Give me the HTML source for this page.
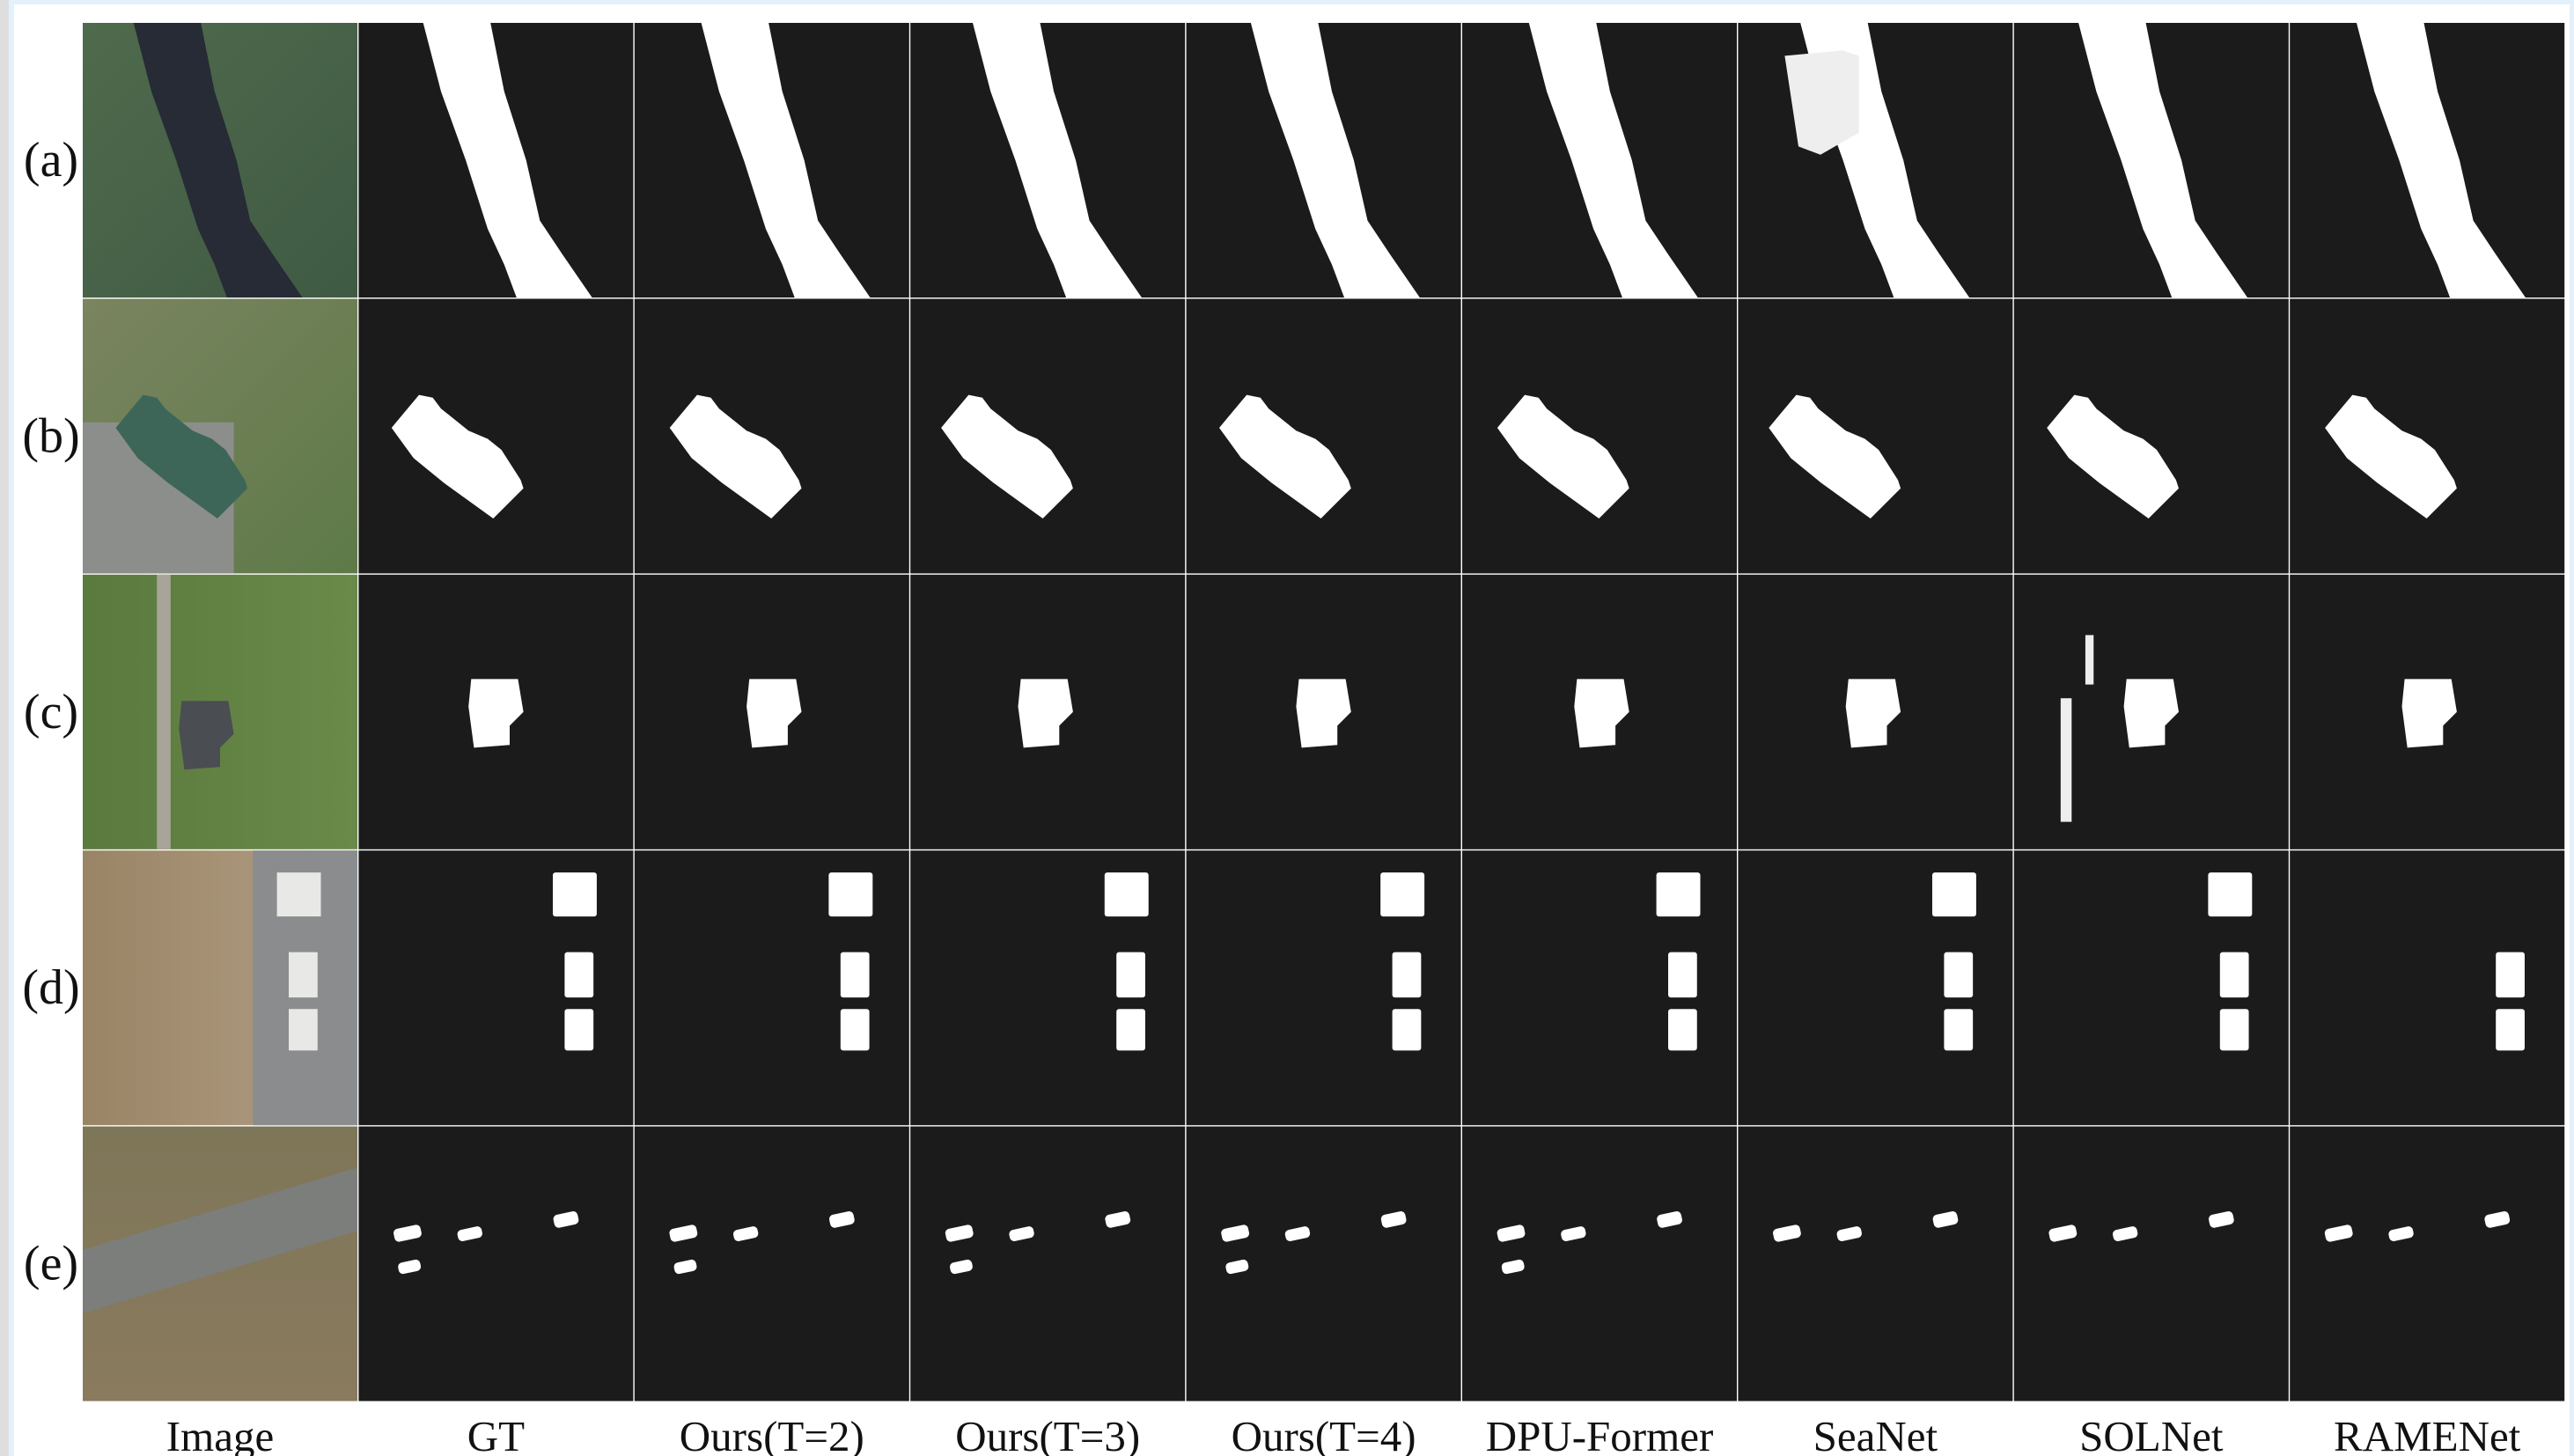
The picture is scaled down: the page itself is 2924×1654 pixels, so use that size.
<!DOCTYPE html>
<html><head><meta charset="utf-8"><style>
html,body{margin:0;padding:0;width:2924px;height:1654px;overflow:hidden;background:#fff}
svg{display:block}
text{font-family:"Liberation Serif",serif;fill:#111}
</style></head><body>
<svg id="fig" width="2924" height="1654" viewBox="0 0 2924 1654" xmlns="http://www.w3.org/2000/svg">
<rect x="0" y="0" width="2924" height="1654" fill="#ffffff"/>
<rect x="0" y="0" width="2924" height="5" fill="#e2f1fb"/>
<rect x="0" y="0" width="10" height="1654" fill="#dedede"/>
<rect x="10" y="0" width="6" height="1654" fill="#e2f1fb"/>
<rect x="2919" y="0" width="5" height="1654" fill="#e2f1fb"/>
<defs>
<linearGradient id="gA" x1="0" y1="0" x2="1" y2="1"><stop offset="0" stop-color="#4f6a4c"/><stop offset="1" stop-color="#3f5a44"/></linearGradient>
<linearGradient id="gB" x1="0" y1="0" x2="1" y2="1"><stop offset="0" stop-color="#7a8460"/><stop offset="1" stop-color="#5e7a48"/></linearGradient>
<linearGradient id="gC" x1="0" y1="0" x2="1" y2="0"><stop offset="0" stop-color="#5a7a3e"/><stop offset="1" stop-color="#6a8a4a"/></linearGradient>
<linearGradient id="gD" x1="0" y1="0" x2="1" y2="0"><stop offset="0" stop-color="#9a8466"/><stop offset="0.6" stop-color="#a89478"/><stop offset="1" stop-color="#8a8a88"/></linearGradient>
<linearGradient id="gE" x1="0" y1="0" x2="0" y2="1"><stop offset="0" stop-color="#7e7658"/><stop offset="1" stop-color="#8a7a5e"/></linearGradient>
</defs>
<g id="cells"></g>
<g id="labels"></g>
</svg>
<script>
const columns = ["Image","GT","Ours(T=2)","Ours(T=3)","Ours(T=4)","DPU-Former","SeaNet","SOLNet","RAMENet"];
const rowLabels = ["(a)","(b)","(c)","(d)","(e)"];
const riverShape = [[0.235,0],[0.48,0],[0.53,0.25],[0.61,0.5],[0.66,0.72],[0.74,0.84],[0.85,1],[0.575,1],[0.53,0.88],[0.47,0.75],[0.39,0.5],[0.3,0.25]];
const buildingShape = [[0.22,0.35],[0.27,0.36],[0.3,0.4],[0.4,0.48],[0.47,0.51],[0.52,0.55],[0.59,0.66],[0.6,0.69],[0.49,0.8],[0.31,0.67],[0.2,0.58],[0.12,0.47],[0.17,0.41]];
const houseShape = [[0.41,0.38],[0.58,0.38],[0.6,0.5],[0.55,0.55],[0.55,0.62],[0.42,0.63],[0.4,0.48]];
const depotRects = [[0.707,0.08,0.16,0.16],[0.75,0.37,0.105,0.165],[0.75,0.577,0.105,0.151]];
const carSpots = [[0.128,0.365,0.10,0.048],[0.36,0.37,0.09,0.042],[0.71,0.315,0.09,0.048],[0.144,0.49,0.082,0.042]];
const x0=94, y0=26, pitch=313.4, cs=312;
const NS="http://www.w3.org/2000/svg";
const cells=document.getElementById('cells');
const labels=document.getElementById('labels');
function mk(tag,attrs,parent){const e=document.createElementNS(NS,tag);for(const k in attrs)e.setAttribute(k,attrs[k]);parent.appendChild(e);return e;}
function poly(pts,cx,cy,parent,dx){return mk('polygon',{points:pts.map(p=>((cx+(p[0]+(dx||0))*cs).toFixed(1)+','+(cy+p[1]*cs).toFixed(1))).join(' '),fill:'#fff'},parent);}
const gradIds=["gA","gB","gC","gD","gE"];
for(let r=0;r<5;r++){
  const cy=y0+r*pitch;
  const lab=mk('text',{x:58,y:cy+cs/2+18,'font-size':56,'text-anchor':'middle'},labels);
  lab.textContent=rowLabels[r];
  
  
  for(let c=0;c<columns.length;c++){
    const cx=x0+c*pitch;
    const g=mk('g',{},cells);
    
    
    if(c===0){
      mk('rect',{x:cx,y:cy,width:cs,height:cs,fill:'url(#'+gradIds[r]+')'},g);
      if(r===0){poly(riverShape.map(p=>[p[0]-0.05,p[1]]),cx,cy,g).setAttribute('fill','#262b36');}
      if(r===1){mk('rect',{x:cx,y:cy+cs*0.45,width:cs*0.55,height:cs*0.55,fill:'#8c8e8c'},g);poly(buildingShape,cx,cy,g).setAttribute('fill','#3d6658');}
      if(r===2){mk('rect',{x:cx+cs*0.27,y:cy,width:cs*0.05,height:cs,fill:'#a8a49a'},g);poly(houseShape.map(p=>[p[0]-0.05,p[1]+0.08]),cx,cy,g).setAttribute('fill','#4a4d52');}
      if(r===3){mk('rect',{x:cx+cs*0.62,y:cy,width:cs*0.38,height:cs,fill:'#8a8c8e'},g);depotRects.forEach(d=>mk('rect',{x:cx+cs*d[0],y:cy+cs*d[1],width:cs*d[2],height:cs*d[3],fill:'#e8e8e6'},g));}
      if(r===4){mk('polygon',{points:`${cx},${cy+cs*0.45} ${cx+cs},${cy+cs*0.15} ${cx+cs},${cy+cs*0.38} ${cx},${cy+cs*0.68}`,fill:'#7c7e7c'},g);}
      continue;
    }
    mk('rect',{x:cx,y:cy,width:cs,height:cs,fill:'#1b1b1b'},g);
    const dx=(c%3-1)*0.008;
    if(r===0){
      poly(riverShape,cx,cy,g,dx);
      if(c===6){poly([[0.17,0.12],[0.38,0.1],[0.44,0.12],[0.44,0.4],[0.3,0.48],[0.22,0.45]],cx,cy,g).setAttribute('fill','#eee');}
    }
    if(r===1){poly(buildingShape,cx,cy,g,dx);}
    if(r===2){poly(houseShape,cx,cy,g,dx);
      if(c===7){mk('rect',{x:cx+cs*0.17,y:cy+cs*0.45,width:cs*0.04,height:cs*0.45,fill:'#eee'},g);mk('rect',{x:cx+cs*0.26,y:cy+cs*0.22,width:cs*0.03,height:cs*0.18,fill:'#eee'},g);}
    }
    if(r===3){depotRects.forEach((d,i)=>{if(c===8&&i===0)return;mk('rect',{x:cx+cs*d[0],y:cy+cs*d[1],width:cs*d[2],height:cs*d[3],fill:'#fff',rx:3},g);});}
    if(r===4){carSpots.forEach((d,i)=>{if(c>=6&&i===3)return;
      const ex=cx+cs*(d[0]+d[2]/2), ey=cy+cs*(d[1]+d[3]/2);
      mk('rect',{x:ex-cs*d[2]/2,y:ey-cs*d[3]/2,width:cs*d[2],height:cs*d[3],rx:5,fill:'#fff',transform:`rotate(-12 ${ex} ${ey})`},g);});}
  }
}
for(let c=0;c<columns.length;c++){
  const t=mk('text',{x:x0+c*pitch+cs/2,y:1648,'font-size':49,'text-anchor':'middle'},labels);
  t.textContent=columns[c];
  
  
}
</script>
</body></html>
